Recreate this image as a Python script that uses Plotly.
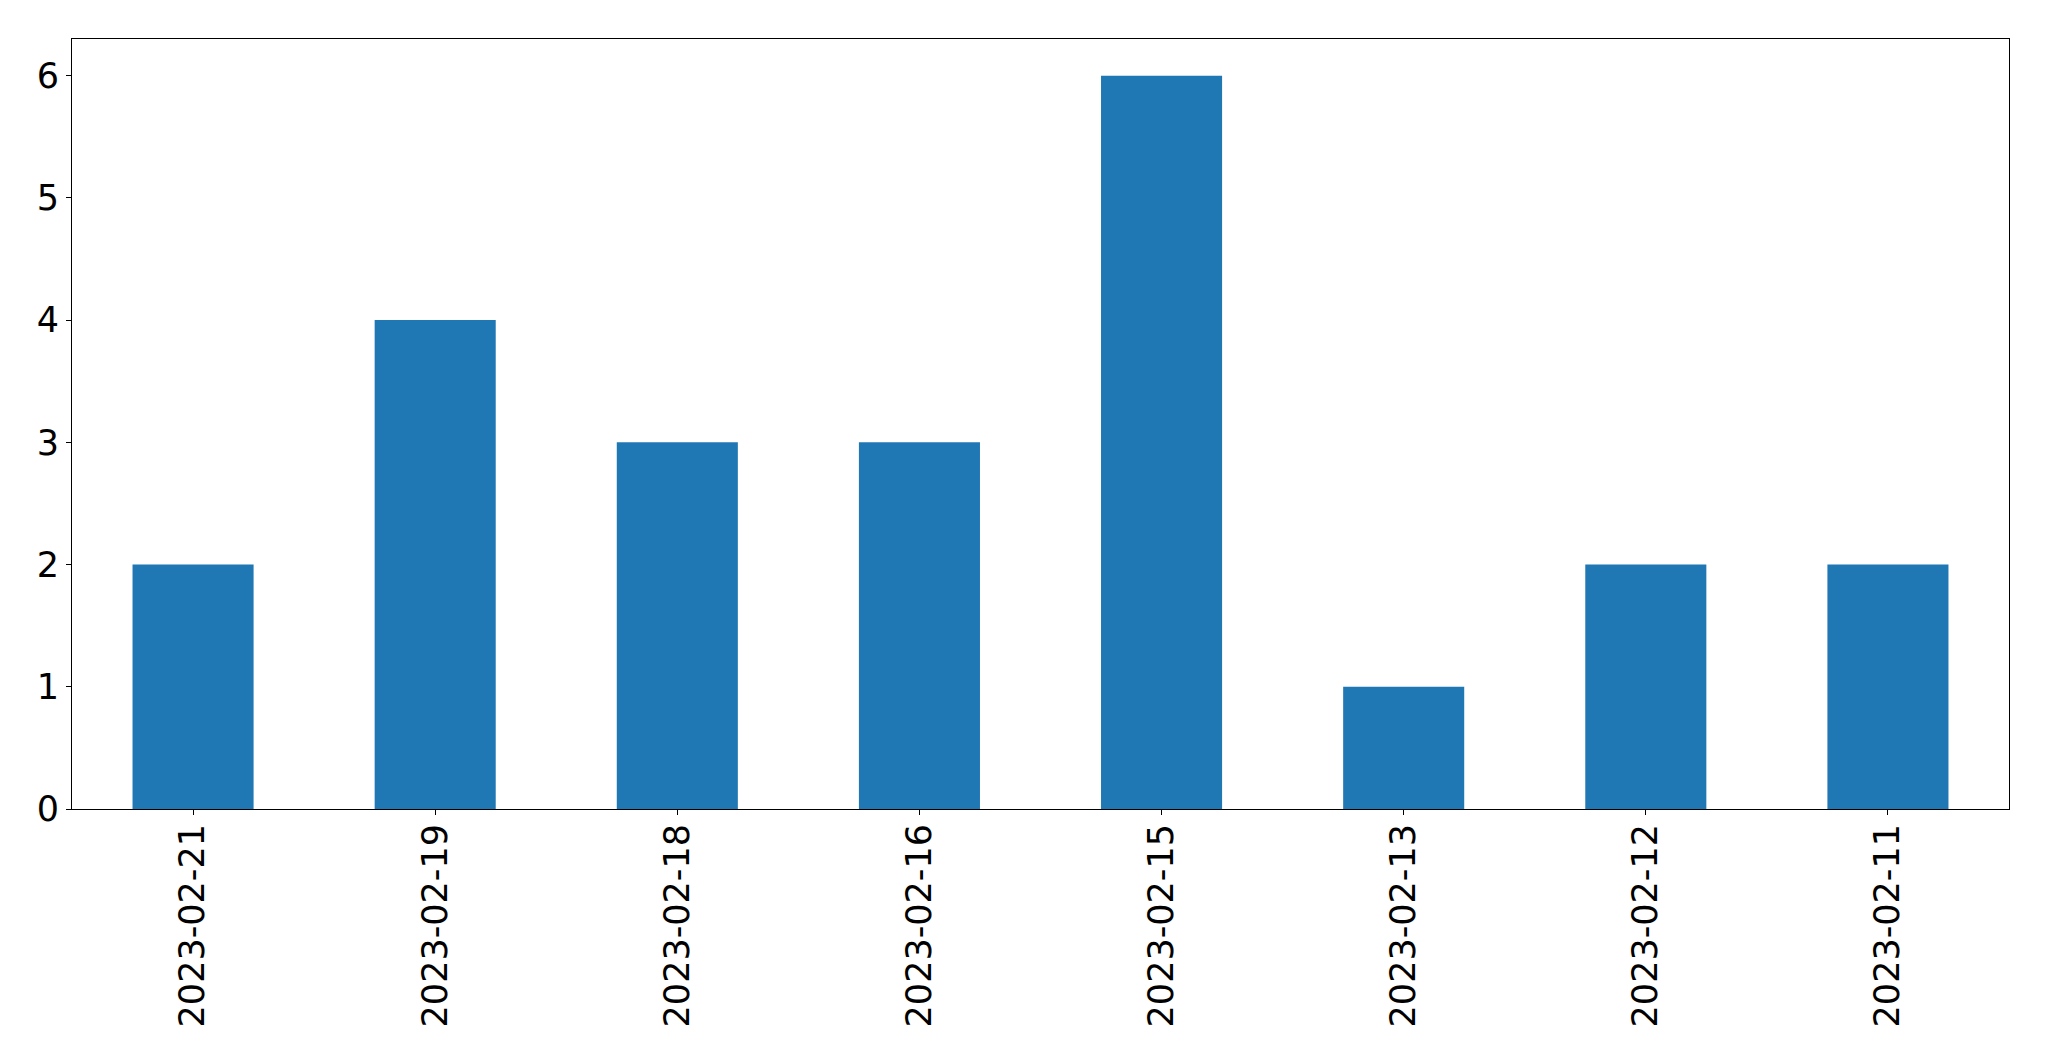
import plotly.graph_objects as go

dates = ["2023-02-21", "2023-02-19", "2023-02-18", "2023-02-16",
         "2023-02-15", "2023-02-13", "2023-02-12", "2023-02-11"]
counts = [2, 4, 3, 3, 6, 1, 2, 2]

fig = go.Figure(go.Bar(x=dates, y=counts, width=0.5, marker_color="#1f77b4",
                       marker_line_width=0))

axis_common = dict(showline=True, linecolor="black", linewidth=1, mirror=True,
                   ticks="outside", ticklen=5, tickwidth=1, tickcolor="black",
                   showgrid=False, zeroline=False,
                   tickfont=dict(family="DejaVu Sans", size=35, color="black"))

fig.update_xaxes(type="category", range=[-0.5, 7.5], tickangle=-90,
                 ticklabelstandoff=-5, **axis_common)
fig.update_yaxes(range=[0, 6.3], tickvals=[0, 1, 2, 3, 4, 5, 6],
                 ticklabelstandoff=0, **axis_common)

fig.update_layout(width=2033, height=1045, plot_bgcolor="white",
                  paper_bgcolor="white", showlegend=False,
                  margin=dict(l=64, r=32, t=31, b=244, autoexpand=False))

fig.write_html("out.html")
